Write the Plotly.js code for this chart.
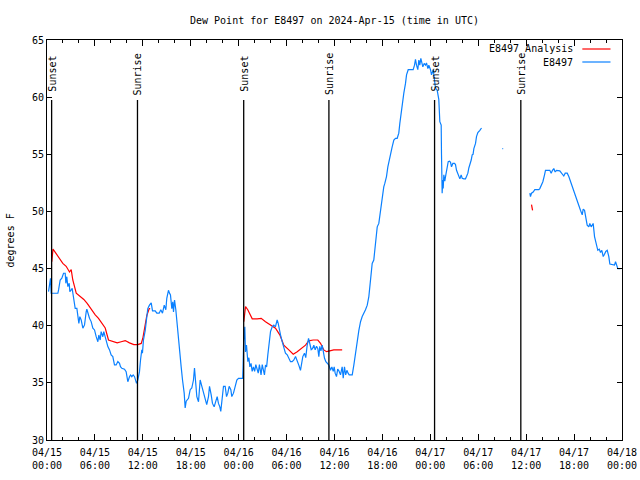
<!DOCTYPE html>
<html>
<head>
<meta charset="utf-8">
<script src="https://cdn.plot.ly/plotly-3.0.1.min.js"></script>
<style>html,body{margin:0;padding:0;background:#fff;}#chart{width:640px;height:480px;}</style>
</head>
<body>
<div id="chart"></div>
<script>
// Hours after 2024-04-15 00:00 UTC, observed dew point (deg F); null = gap
const obsHours = [0.19,0.44,0.52,1.36,1.45,1.65,1.86,2.07,2.28,2.36,2.48,2.61,2.78,2.86,3.03,3.15,3.24,3.44,3.53,3.74,3.86,3.99,4.11,4.28,4.49,4.7,4.91,4.99,5.32,5.53,5.74,5.95,6.16,6.37,6.49,6.66,6.78,6.99,7.11,7.28,7.41,7.62,7.83,8.03,8.24,8.45,8.66,8.87,9.08,9.2,9.37,9.7,9.91,10.04,10.12,10.33,10.46,10.62,10.79,10.96,11.04,11.21,11.37,11.58,11.71,11.8,11.87,11.95,12.08,12.3,12.5,12.62,12.83,13.05,13.21,13.55,13.75,14.05,14.25,14.46,14.68,14.88,15.0,15.21,15.34,15.46,15.63,15.75,15.84,15.97,16.13,16.34,16.55,16.8,16.97,17.18,17.3,17.43,17.72,17.93,18.13,18.34,18.47,18.63,18.76,18.97,19.18,19.39,19.6,19.8,20.0,20.22,20.35,20.56,20.72,20.93,21.14,21.31,21.47,21.64,21.76,21.89,22.1,22.31,22.48,22.64,22.81,23.02,23.14,23.35,23.56,23.77,23.98,24.32,24.5,24.55,24.62,24.77,24.85,24.98,25.15,25.28,25.4,25.55,25.69,25.85,26.0,26.15,26.3,26.45,26.6,26.7,26.8,26.95,27.1,27.23,27.36,27.5,27.65,27.78,27.99,28.2,28.4,28.6,28.82,28.95,29.07,29.24,29.45,29.65,29.86,30.08,30.28,30.49,30.7,30.91,31.12,31.32,31.53,31.74,31.87,32.03,32.24,32.4,32.58,32.75,32.92,33.08,33.25,33.41,33.58,33.75,33.91,34.04,34.16,34.3,34.46,34.6,34.75,34.92,35.09,35.3,35.5,35.67,35.84,35.96,36.08,36.25,36.4,36.55,36.75,36.96,37.09,37.25,37.4,37.55,37.7,37.84,38.0,38.22,38.42,38.63,38.84,39.05,39.26,39.47,39.88,40.1,40.3,40.51,40.72,40.92,41.13,41.35,41.55,41.76,41.97,42.17,42.3,42.51,42.68,42.85,43.01,43.22,43.43,43.64,43.85,44.05,44.18,44.35,44.52,44.68,44.89,45.02,45.23,45.85,46.02,46.14,46.27,46.43,46.56,46.68,46.81,46.94,47.06,47.23,47.4,47.52,47.69,47.81,48.02,48.15,48.36,48.52,48.64,48.86,48.98,49.06,49.19,49.36,49.4,49.48,49.56,49.61,49.69,49.81,49.94,50.11,50.24,50.4,50.53,50.65,50.82,51.03,51.15,51.28,51.45,51.57,51.7,51.86,51.99,52.2,52.4,52.53,52.7,52.82,52.95,53.12,53.24,53.35,53.45,53.66,53.78,53.95,54.2,54.41,55.7,57.02,57.12,58.8,60.46,60.54,60.67,60.88,61.08,61.58,61.71,61.88,62.09,62.3,62.42,62.96,63.13,63.3,63.46,63.63,63.8,64.21,64.39,64.55,64.71,64.89,65.14,65.34,65.55,65.76,65.97,66.18,66.39,66.59,66.8,67.02,67.14,67.31,67.47,67.64,67.85,67.97,68.14,68.39,68.56,68.81,68.97,69.15,69.31,69.47,69.65,69.81,69.97,70.15,70.35,70.48,71.06,71.19,71.31,71.48,71.81];
const obsDew = [42.98,44.15,42.84,42.84,43.13,44.0,44.15,44.59,44.59,43.71,44.29,43.42,43.71,42.98,43.13,43.27,42.84,41.96,41.52,41.52,40.65,40.21,40.79,40.5,39.78,40.07,41.23,41.44,40.65,40.36,39.78,39.63,39.04,38.6,39.19,38.75,39.48,39.04,39.48,39.04,38.46,38.17,37.88,37.44,37.3,36.57,36.57,36.86,36.71,36.42,36.27,36.2,35.98,35.54,35.1,35.54,35.69,35.54,35.69,35.54,35.25,34.96,35.25,35.98,37.0,37.4,37.9,37.6,38.75,39.6,40.8,41.5,41.8,42.0,41.3,41.3,41.1,41.1,41.4,41.1,41.8,41.4,42.4,43.1,42.85,42.7,41.5,42.1,41.2,42.25,41.4,39.6,38.5,36.4,35.25,34.1,32.8,33.4,33.65,34.4,34.55,35.25,36.3,35.25,33.8,33.35,35.25,34.7,34.1,33.8,33.1,33.8,34.7,33.95,33.2,32.9,33.5,33.8,33.2,32.9,32.5,33.5,34.7,34.7,33.8,34.1,34.7,34.4,33.8,34.1,34.7,35.25,35.4,35.4,35.4,36.4,38.6,39.9,37.7,38.3,36.85,37.2,36.4,36.7,36.0,36.4,36.0,36.6,36.3,35.85,36.6,36.0,35.7,36.6,36.0,35.7,36.55,36.4,37.45,38.3,39.5,39.9,40.05,39.9,40.5,40.2,39.6,39.2,38.6,38.0,37.6,37.45,37.15,36.85,36.85,37.0,37.3,37.0,36.55,36.1,36.85,37.3,37.6,37.2,38.3,38.9,38.4,37.9,38.0,38.3,37.9,38.2,38.0,37.3,38.2,37.8,38.3,37.6,37.15,36.85,36.7,36.55,36.1,36.4,36.0,36.4,35.85,35.55,36.2,36.05,35.7,36.4,35.4,36.4,35.7,36.1,35.85,35.7,35.7,35.7,36.55,37.7,38.75,39.6,40.35,40.8,41.4,41.8,42.55,44.0,45.45,45.75,47.2,48.65,48.95,50.1,51.0,52.15,52.45,53.05,53.9,54.5,55.1,55.65,56.25,56.4,56.4,56.85,57.7,58.7,59.45,60.35,61.2,61.95,62.4,62.4,62.8,63.3,62.8,62.4,63.25,62.8,63.4,62.95,62.65,62.95,62.8,63.0,62.5,62.8,62.4,61.95,62.4,61.5,60.8,60.6,59.9,59.8,57.85,57.55,54.95,51.6,52.75,52.0,53.2,52.65,53.2,53.8,54.35,54.4,54.3,53.9,54.2,54.2,54.1,53.6,53.35,53.05,52.85,53.2,52.9,52.85,52.85,53.05,53.35,53.8,54.05,54.5,54.95,55.0,55.5,55.95,56.55,56.9,57.1,57.3,null,55.5,55.5,null,51.6,51.3,51.6,51.7,51.9,51.9,52.0,52.3,52.6,53.2,53.6,53.6,53.35,53.6,53.75,53.45,53.6,53.55,53.4,53.3,53.1,53.35,53.35,53.05,52.6,52.15,51.75,51.35,51.0,50.55,50.1,49.7,50.2,50.1,49.55,48.8,48.65,48.95,48.65,48.95,47.8,46.9,46.6,46.7,46.4,46.6,46.05,46.25,46.5,46.6,46.05,45.4,45.3,45.6,45.4,45.0,45.0];

// Analysis series
const anaHours = [0.6,0.75,1.15,1.57,1.98,2.4,2.82,3.03,3.23,3.66,4.19,4.61,5.03,5.53,6.04,6.45,6.86,7.29,7.7,8.24,8.79,9.29,9.79,10.33,10.87,11.37,11.8,12.0,12.17,12.3,12.5,12.8,12.92,18.0,24.64,24.86,25.14,25.7,26.32,26.82,27.36,27.99,28.61,29.15,29.65,30.28,30.83,31.33,31.96,32.37,32.78,33.33,33.91,34.25,34.66,35.0,35.41,35.91,36.96,48.0,60.67,60.7,60.8];
const anaDew = [45.6,46.7,46.3,45.9,45.45,45.2,44.7,44.9,44.0,42.85,42.55,42.3,41.95,41.4,40.95,40.65,40.2,39.8,38.75,38.6,38.5,38.6,38.7,38.5,38.35,38.35,38.45,38.9,39.5,40.2,40.9,41.5,41.5,null,40.35,41.67,41.4,40.6,40.6,40.65,40.35,40.07,39.78,39.2,38.3,37.88,37.5,37.73,38.03,38.3,38.67,38.75,38.75,38.46,37.88,37.73,37.8,37.88,37.88,null,50.6,50.35,50.1];

// Sunrise / sunset markers (hours after 2024-04-15 00:00 UTC)
const sunHours = [0.58, 11.33, 24.63, 35.3, 48.53, 59.33];
const sunLabels = ['Sunset','Sunrise','Sunset','Sunrise','Sunset','Sunrise'];

const seriesNames = ['E8497 Analysis', 'E8497'];
const seriesColors = ['#ff0000', '#0a80ff'];

const titleText = 'Dew Point for E8497 on 2024-Apr-15 (time in UTC)';
const yTitle = 'degrees F';

function toTime(h) {
  const ms = Date.UTC(2024, 3, 15) + Math.round(h * 3600000);
  return new Date(ms).toISOString().slice(0, 19).replace('T', ' ');
}

const FONT = 'DejaVu Sans Mono, Liberation Mono, monospace';

const traces = [
  {x: anaHours.map(toTime), y: anaDew, name: seriesNames[0], type: 'scatter', mode: 'lines',
   line: {color: seriesColors[0], width: 1.2}, connectgaps: false, showlegend: false},
  {x: obsHours.map(toTime), y: obsDew, name: seriesNames[1], type: 'scatter', mode: 'lines',
   line: {color: seriesColors[1], width: 1.2}, connectgaps: false, showlegend: false}
];

const shapes = sunHours.map(h => ({
  type: 'line', xref: 'x', yref: 'paper', x0: toTime(h), x1: toTime(h), y0: 0, y1: 0.85,
  line: {color: '#000', width: 1.3}
}));
const annotations = sunHours.map((h, i) => ({
  x: toTime(h), xref: 'x', y: 0.915, yref: 'paper', text: sunLabels[i], textangle: -90,
  showarrow: false, xanchor: 'center', yanchor: 'middle', xshift: 1,
  font: {family: FONT, size: 10, color: '#000'}
}));

// legend (text then line sample, gnuplot style)
const legY = [0.9775, 0.945];
seriesNames.forEach((n, i) => {
  annotations.push({x: 0.919, xref: 'paper', y: legY[i], yref: 'paper', text: n, showarrow: false,
    xanchor: 'right', yanchor: 'middle', font: {family: FONT, size: 10, color: '#000'}});
  shapes.push({type: 'line', xref: 'paper', yref: 'paper', x0: 0.931, x1: 0.98, y0: legY[i], y1: legY[i],
    line: {color: seriesColors[i], width: 1.2}});
});

annotations.push({x: -0.0635, xref: 'paper', y: 0.5, yref: 'paper', text: yTitle, textangle: -90,
  showarrow: false, xanchor: 'center', yanchor: 'middle', font: {family: FONT, size: 10, color: '#000'}});

const axisCommon = {
  showline: true, linecolor: '#000', linewidth: 1, mirror: 'allticks', ticks: 'inside',
  tickcolor: '#000', tickwidth: 1, showgrid: false, zeroline: false,
  tickfont: {family: FONT, size: 10, color: '#000'}
};

const layout = {
  width: 640, height: 480,
  margin: {l: 47, r: 18, t: 40, b: 40},
  paper_bgcolor: '#fff', plot_bgcolor: '#fff',
  title: {text: titleText, font: {family: FONT, size: 10, color: '#000'}, x: 0.5, xref: 'paper',
          y: 1 - 20 / 480, yref: 'container', yanchor: 'middle'},
  xaxis: Object.assign({}, axisCommon, {
    type: 'date', range: [toTime(0), toTime(72)], dtick: 6 * 3600000, tick0: toTime(0),
    tickformat: '%m/%d<br>%H:%M', ticklen: 6, ticklabelstandoff: 3,
    minor: {dtick: 2 * 3600000, ticks: 'inside', ticklen: 3, tickcolor: '#000', showgrid: false}
  }),
  yaxis: Object.assign({}, axisCommon, {range: [30, 65], dtick: 5, tick0: 30, ticklen: 5}),
  shapes: shapes,
  annotations: annotations,
  showlegend: false
};

Plotly.newPlot('chart', traces, layout, {displayModeBar: false, staticPlot: true});
</script>
</body>
</html>
